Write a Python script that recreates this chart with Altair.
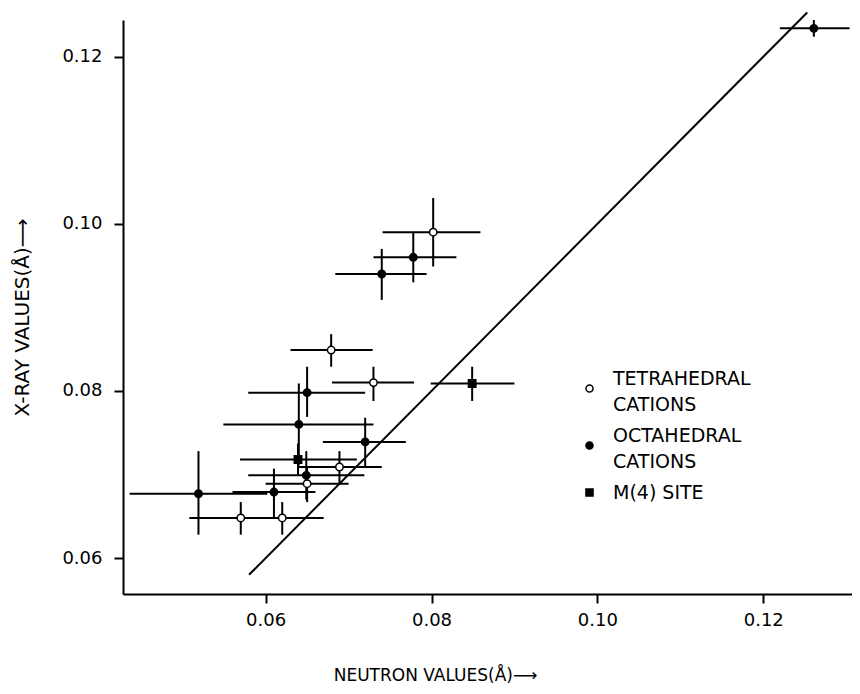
import altair as alt
import pandas as pd

TET = "TETRAHEDRAL CATIONS"
OCT = "OCTAHEDRAL CATIONS"
M4 = "M(4) SITE"

site = [TET, OCT, OCT, TET, TET, M4, OCT, OCT, M4, OCT, TET, OCT, TET, OCT, OCT, TET, TET, OCT]
neutron = [0.0802, 0.0778, 0.0740, 0.0679, 0.0730, 0.0849, 0.0650, 0.0640, 0.0639,
           0.0720, 0.0689, 0.0649, 0.0650, 0.0519, 0.0610, 0.0570, 0.0620, 0.1261]
xray = [0.0990, 0.0960, 0.0940, 0.0849, 0.0810, 0.0809, 0.0798, 0.0760, 0.0718,
        0.0739, 0.0709, 0.0699, 0.0689, 0.0677, 0.0679, 0.0648, 0.0648, 0.1234]
neutron_lo = [0.0741, 0.0730, 0.0684, 0.0630, 0.0680, 0.0799, 0.0579, 0.0549, 0.0569,
              0.0669, 0.0640, 0.0579, 0.0600, 0.0436, 0.0560, 0.0508, 0.0571, 0.1220]
neutron_hi = [0.0859, 0.0830, 0.0794, 0.0729, 0.0779, 0.0900, 0.0720, 0.0730, 0.0710,
              0.0769, 0.0740, 0.0719, 0.0700, 0.0602, 0.0660, 0.0632, 0.0670, 0.1304]
xray_lo = [0.0949, 0.0930, 0.0909, 0.0829, 0.0788, 0.0788, 0.0769, 0.0711, 0.0699,
           0.0709, 0.0689, 0.0670, 0.0667, 0.0628, 0.0648, 0.0628, 0.0628, 0.1224]
xray_hi = [0.1031, 0.0989, 0.0970, 0.0868, 0.0829, 0.0829, 0.0829, 0.0809, 0.0737,
           0.0768, 0.0728, 0.0728, 0.0708, 0.0728, 0.0707, 0.0667, 0.0667, 0.1244]

diag_x = [0.0580, 0.1253]
diag_y = [0.0580, 0.1253]

x_ticks = [0.06, 0.08, 0.10, 0.12]
y_ticks = [0.06, 0.08, 0.10, 0.12]

df = pd.DataFrame({
    "site": site, "neutron": neutron, "xray": xray,
    "nlo": neutron_lo, "nhi": neutron_hi, "xlo": xray_lo, "xhi": xray_hi,
})
diag = pd.DataFrame({"neutron": diag_x, "xray": diag_y})

FONT = "DejaVu Sans"
xscale = alt.Scale(domain=[0.0428, 0.1307], nice=False, zero=False)
yscale = alt.Scale(domain=[0.0557, 0.1244], nice=False, zero=False)

xaxis = alt.Axis(values=x_ticks, format=".2f", title="NEUTRON VALUES(Å)⟶",
                 titleX=312, titleY=81, titleBaseline="middle", titleAnchor="start",
                 titleAlign="center", titleFontSize=17)
yaxis = alt.Axis(values=y_ticks, format=".2f", title="X-RAY VALUES(Å)⟶",
                 titleX=-101, titleY=297, titleAlign="center", titleBaseline="middle",
                 titleFontSize=20)

X = alt.X("neutron:Q", scale=xscale, axis=xaxis)
Y = alt.Y("xray:Q", scale=yscale, axis=yaxis)

hbars = alt.Chart(df).mark_rule(color="black", strokeWidth=2).encode(
    x=alt.X("nlo:Q", scale=xscale, axis=xaxis), x2="nhi:Q", y=Y)
vbars = alt.Chart(df).mark_rule(color="black", strokeWidth=2).encode(
    x=X, y=alt.Y("xlo:Q", scale=yscale, axis=yaxis), y2="xhi:Q")
line = alt.Chart(diag).mark_line(color="black", strokeWidth=2, clip=False).encode(x=X, y=Y)

dom = [TET, OCT, M4]
legend = alt.Legend(
    title=None, orient="none", legendX=457, legendY=359,
    labelFont=FONT, labelFontSize=19, labelColor="black", labelOffset=14,
    labelBaseline={"expr": "datum.label == 'M(4) SITE' ? 'middle' : 'bottom'"},
    rowPadding=11, symbolSize=50, symbolStrokeWidth=1.5, labelLimit=400,
    labelExpr="datum.label == 'M(4) SITE' ? datum.label : split(datum.label, ' ')",
)
points = alt.Chart(df).mark_point(filled=True, size=55, strokeWidth=1.5,
                                  stroke="black", opacity=1).encode(
    x=X, y=Y,
    shape=alt.Shape("site:N", scale=alt.Scale(domain=dom, range=["circle", "circle", "square"]),
                    legend=legend),
    fill=alt.Fill("site:N", scale=alt.Scale(domain=dom, range=["white", "black", "black"]),
                  legend=legend),
)

chart = alt.layer(hbars, vbars, line, points).properties(
    width=729, height=574,
    autosize=alt.AutoSizeParams(type="none"),
    padding={"left": 115, "top": 12, "right": 0, "bottom": 90},
).configure(
    style={"guide-label": {"lineHeight": 26}},
).configure_view(stroke=None).configure_axis(
    grid=False, domainColor="black", domainWidth=2, tickColor="black", tickWidth=2,
    tickSize=9, labelFont=FONT, labelFontSize=18, labelColor="black", labelPadding=8,
    titleFont=FONT, titleFontWeight="normal", titleColor="black",
).configure_axisY(labelPadding=12)

chart.save("out.html", embed_options={"renderer": "svg", "actions": False})
